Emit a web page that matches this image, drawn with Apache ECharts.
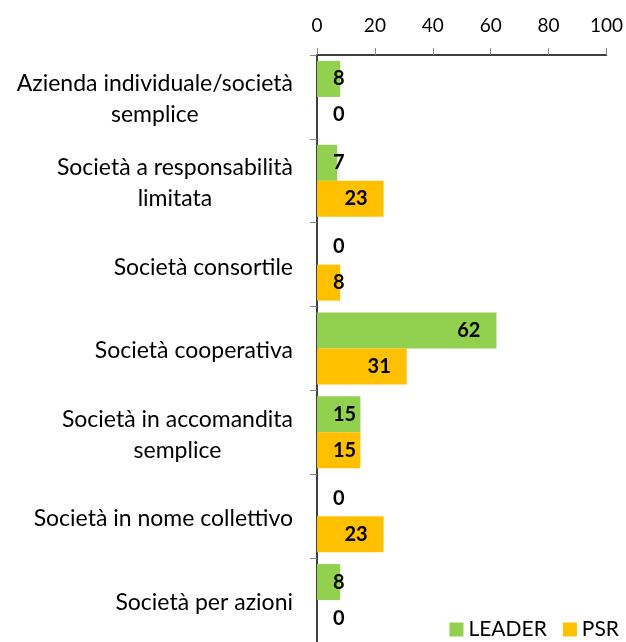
<!DOCTYPE html>
<html>
<head>
<meta charset="utf-8">
<script src="https://cdn.jsdelivr.net/npm/echarts@6/dist/echarts.min.js"></script>
<style>html,body{margin:0;padding:0;background:#fff}#c{width:626px;height:642px}</style>
</head>
<body>
<div id="c"></div>
<script>
const categories = [
  "Azienda individuale/società\nsemplice",
  "Società a responsabilità\nlimitata",
  "Società consortile",
  "Società cooperativa",
  "Società in accomandita\nsemplice",
  "Società in nome collettivo",
  "Società per azioni"
];
const leader = [8, 7, 0, 62, 15, 0, 8];
const psr = [0, 23, 8, 31, 15, 23, 0];
const xTicks = [0, 20, 40, 60, 80, 100];

const FONT = 'Lato';
function items(arr) {
  return arr.map(v => ({
    value: v,
    label: v < 20 ? { position: 'insideLeft', distance: 16 } : { position: 'insideRight', distance: 16 }
  }));
}
const valueLabel = { show: true, color: '#000', fontWeight: 'bold', fontSize: 20, fontFamily: FONT };

const chart = echarts.init(document.getElementById('c'), null, { renderer: 'canvas' });
chart.setOption({
  animation: false,
  textStyle: { fontFamily: FONT },
  grid: { left: 317, top: 55, width: 290, height: 595, containLabel: false },
  legend: {
    data: ['LEADER', 'PSR'],
    right: 2, top: 614,
    icon: 'rect', itemWidth: 14, itemHeight: 14, itemGap: 16,
    textStyle: { fontSize: 21, fontFamily: FONT, color: '#000' }
  },
  xAxis: {
    type: 'value', position: 'top', min: xTicks[0], max: xTicks[xTicks.length - 1], interval: 20,
    axisLine: { show: true, lineStyle: { color: '#000', width: 1.5 } },
    axisTick: { show: true, length: 7, lineStyle: { color: '#888' } },
    splitLine: { show: false },
    axisLabel: { fontSize: 19, color: '#000', fontFamily: FONT, margin: 20 }
  },
  yAxis: {
    type: 'category', inverse: true, data: categories,
    axisLine: { show: true, lineStyle: { color: '#000', width: 1.5 } },
    axisTick: { show: true, length: 7, lineStyle: { color: '#888' } },
    axisLabel: {
      margin: 24, color: '#000', fontSize: 23, fontFamily: FONT, padding: [5, 0, 0, 0],
      formatter: v => v.split('\n').map(l => '{c|' + l + '}').join('\n'),
      rich: { c: { align: 'center', fontSize: 23, fontFamily: FONT, color: '#000', lineHeight: 31 } }
    }
  },
  series: [
    { name: 'LEADER', type: 'bar', data: items(leader), barWidth: 36, barGap: '0%',
      itemStyle: { color: '#92D050' }, label: valueLabel },
    { name: 'PSR', type: 'bar', data: items(psr), barWidth: 36, barGap: '0%',
      itemStyle: { color: '#FFC000' }, label: valueLabel }
  ]
});
</script>
</body>
</html>
